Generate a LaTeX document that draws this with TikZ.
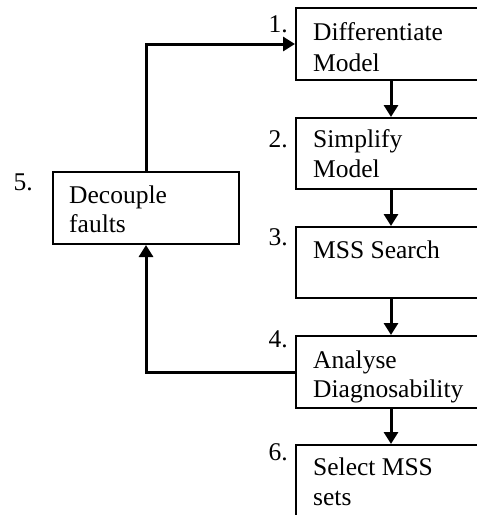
\documentclass[tikz,border=0pt]{standalone}
\usepackage{fontspec}
\setmainfont{Liberation Serif}
\usetikzlibrary{arrows.meta}
\begin{document}
\begin{tikzpicture}[x=1pt,y=-1pt,
  box/.style={draw, line width=2pt, rectangle, minimum width=190pt, anchor=north west, inner sep=0pt},
  sidebox/.style={draw, line width=2pt, rectangle, minimum width=186pt, minimum height=72pt, anchor=north west, inner sep=0pt},
  txt/.style={anchor=base west, inner sep=0pt, font=\fontsize{25.5}{30}\selectfont},
  num/.style={anchor=base east, inner sep=0pt, font=\fontsize{25.5}{30}\selectfont},
  conn/.style={line width=3pt, -{Triangle[length=12pt,width=14pt]}}]
\useasboundingbox (0,0) rectangle (477,515);
\clip (0,0) rectangle (477,515);
\fill[white] (0,0) rectangle (477,515);

% process steps in the right column
\node[box, minimum height=72pt] (b1) at (295,7) {};
\node[box, minimum height=71pt] (b2) at (295,117) {};
\node[box, minimum height=71pt] (b3) at (295,226) {};
\node[box, minimum height=72pt] (b4) at (295,335) {};
\node[box, minimum height=96pt] (b6) at (295,444) {};
% feedback step on the left
\node[sidebox] (b5) at (52,171) {};

% box texts
\node[txt] (t1a) at (313,40) {Differentiate};
\node[txt] (t1b) at (313,71) {Model};
\node[txt] (t2a) at (313,147) {Simplify};
\node[txt] (t2b) at (313,177) {Model};
\node[txt] (t3a) at (313,258) {MSS Search};
\node[txt] (t4a) at (313,368) {Analyse};
\node[txt] (t4b) at (313,397) {Diagnosability};
\node[txt] (t6a) at (313,475) {Select MSS};
\node[txt] (t6b) at (313,505) {sets};
\node[txt] (t5a) at (69,203) {Decouple};
\node[txt] (t5b) at (69,232) {faults};

% step numbers
\node[num] (n1) at (288,32) {1.};
\node[num] (n2) at (288,147) {2.};
\node[num] (n3) at (288,245) {3.};
\node[num] (n4) at (288,347) {4.};
\node[num] (n5) at (33,190) {5.};
\node[num] (n6) at (288,460) {6.};

% connectors
\draw[conn] (b1.south) -- (b2.north);
\draw[conn] (b2.south) -- (b3.north);
\draw[conn] (b3.south) -- (b4.north);
\draw[conn] (b4.south) -- (b6.north);
\draw[conn] (b5.north) |- (b1.west);
\draw[conn] (b4.west) -| (b5.south);
\end{tikzpicture}
\end{document}
